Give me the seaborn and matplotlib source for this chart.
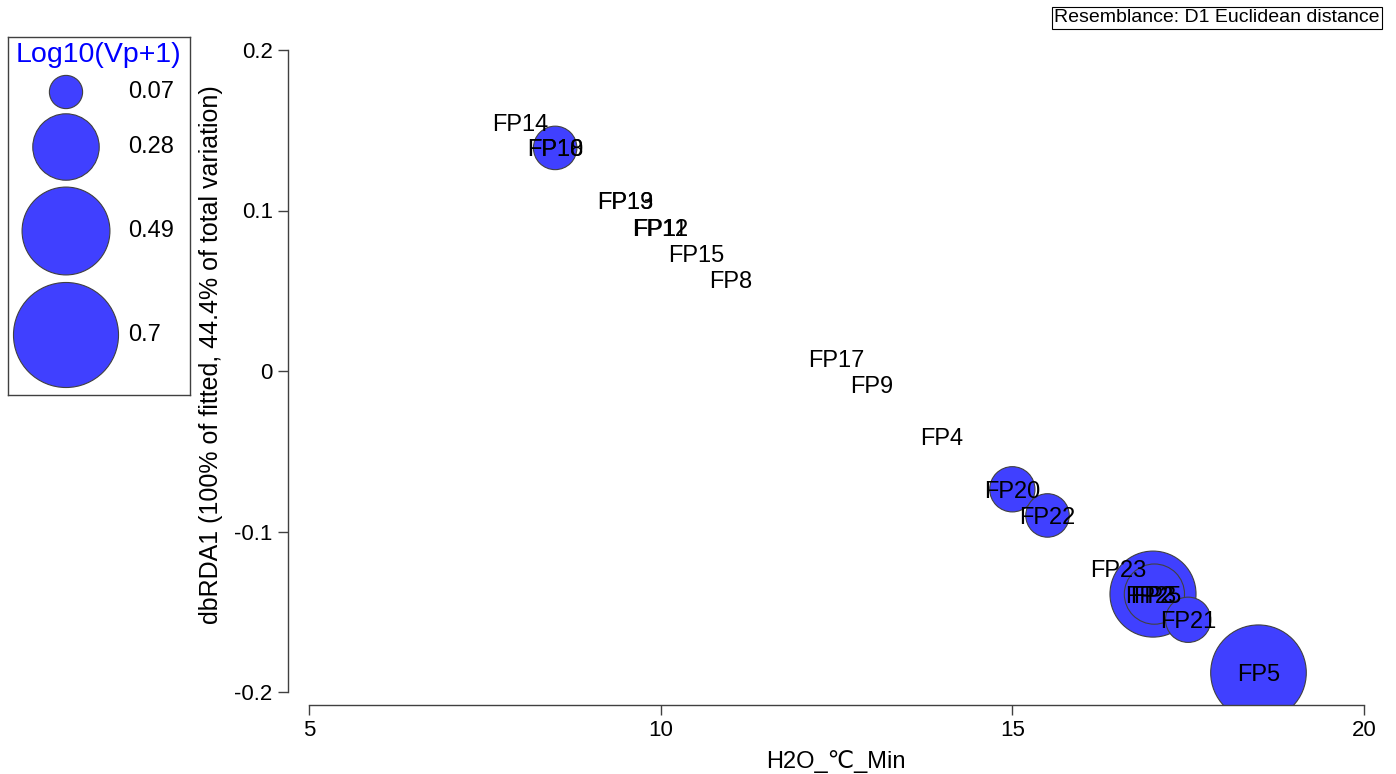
import numpy as np
import pandas as pd
import seaborn as sns
import matplotlib.pyplot as plt

# ----------------------
# DATA
# ----------------------
samples = ["FP14", "FP10", "FP18", "FP19", "FP13", "FP11", "FP12", "FP15", "FP8",
           "FP17", "FP9", "FP4", "FP20", "FP22", "FP23", "FP2", "FP25", "FP3",
           "FP21", "FP5"]
h2o_min = [8.0, 8.5, 8.5, 9.5, 9.5, 10.0, 10.0, 10.5, 11.0,
           12.5, 13.0, 14.0, 15.0, 15.5, 16.5, 16.98, 17.0, 17.02,
           17.5, 18.5]
dbrda1 = [0.155, 0.139, 0.139, 0.106, 0.106, 0.0896, 0.0896, 0.0733, 0.057,
          0.008, -0.0085, -0.041, -0.0737, -0.090, -0.123, -0.139, -0.139, -0.139,
          -0.155, -0.188]
log_vp = [0.0, 0.12, 0.0, 0.0, 0.0, 0.0, 0.0, 0.0, 0.0,
          0.0, 0.0, 0.0, 0.13, 0.12, 0.0, 0.0, 0.47, 0.23,
          0.13, 0.58]

legend_values = [0.07, 0.28, 0.49, 0.7]
legend_labels = ["0.07", "0.28", "0.49", "0.7"]

# ----------------------
# STYLE
# ----------------------
sns.set_theme(style="ticks")
plt.rcParams["font.family"] = ["Liberation Sans", "DejaVu Sans"]
plt.rcParams["text.color"] = "black"

FILL = "#4040ff"
EDGE = "#404040"
SIZE_MAX = 0.7
S_MAX = 8170 * SIZE_MAX  # marker area (pt^2) for the largest legend value

df = pd.DataFrame({"sample": samples, "x": h2o_min, "y": dbrda1, "v": log_vp})

fig = plt.figure(figsize=(13.96, 7.74), dpi=100)
ax = fig.add_axes([288 / 1396, 69 / 774, 1076 / 1396, 655 / 774])

# bubbles (largest first so smaller ones sit on top)
bub = df[df["v"] > 0].sort_values("v", ascending=False)
sns.scatterplot(data=bub, x="x", y="y", size="v", sizes=(0, S_MAX),
                size_norm=(0, SIZE_MAX), color=FILL, edgecolor=EDGE,
                linewidth=0.8, alpha=1, legend=False, ax=ax, zorder=2)

for _, r in df.iterrows():
    ax.text(r["x"], r["y"], r["sample"], ha="center", va="center_baseline",
            fontsize=17, color="black", zorder=3)

ax.set_xlim(5 - 21 / 70.33, 20)
ax.set_ylim(-0.2 - 13 / 1605, 0.2)
ax.set_xticks([5, 10, 15, 20])
ax.set_yticks([0.2, 0.1, 0, -0.1, -0.2])
ax.set_yticklabels(["0.2", "0.1", "0", "-0.1", "-0.2"])
ax.spines["top"].set_visible(False)
ax.spines["right"].set_visible(False)
ax.spines["left"].set_bounds(-0.2, 0.2)
ax.spines["bottom"].set_bounds(5, 20)
for s in ["left", "bottom"]:
    ax.spines[s].set_color("#404040")
    ax.spines[s].set_linewidth(1.0)
ax.tick_params(axis="both", length=7, width=1.0, color="#404040",
               labelsize=16, labelcolor="black", pad=4)
ax.set_xlabel("H2O_℃_Min", fontsize=17, color="black")
ax.set_ylabel("dbRDA1 (100% of fitted, 44.4% of total variation)", fontsize=18,
              color="black")
ax.xaxis.set_label_coords(548 / 1076, -45 / 655)
ax.yaxis.set_label_coords(-65 / 1076, 350 / 655)

# resemblance note
fig.text(1217 / 1396, 1 - 18 / 774, "Resemblance: D1 Euclidean distance",
         ha="center", va="center", fontsize=14, color="black",
         bbox=dict(boxstyle="square,pad=0.12", fc="white", ec="black", lw=0.8))

# bubble legend drawn in its own pixel-coordinate axes
lax = fig.add_axes([8 / 1396, 1 - 395 / 774, 182 / 1396, 358 / 774])
lax.set_xlim(8, 190)
lax.set_ylim(395, 37)
leg = pd.DataFrame({"x": [66] * 4, "y": [92, 147, 231, 335], "v": legend_values})
sns.scatterplot(data=leg, x="x", y="y", size="v", sizes=(0, S_MAX),
                size_norm=(0, SIZE_MAX), color=FILL, edgecolor=EDGE,
                linewidth=0.8, alpha=1, legend=False, ax=lax)
for yy, lab in zip(leg["y"], legend_labels):
    lax.text(128, yy, lab, ha="left", va="center", fontsize=17, color="black")
lax.text(98, 55, "Log10(Vp+1)", ha="center", va="center", fontsize=20.5,
         color="#0000ff")
lax.set_xticks([])
lax.set_yticks([])
lax.set_xlabel("")
lax.set_ylabel("")
for s in lax.spines.values():
    s.set_color("#404040")
    s.set_linewidth(1.0)

fig.savefig("out.png", dpi=100)
